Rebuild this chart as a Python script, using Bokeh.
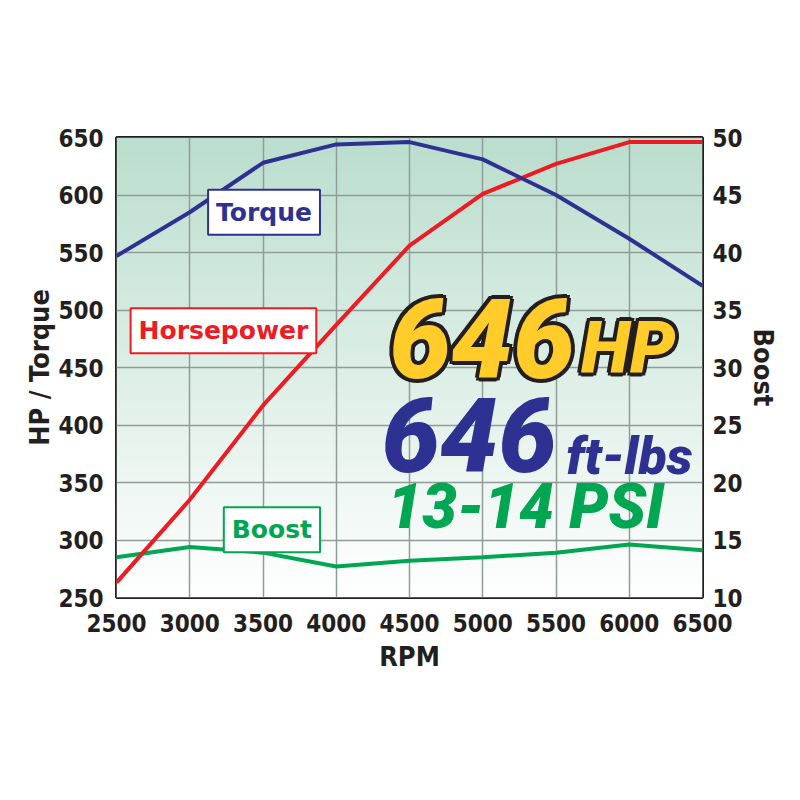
import numpy as np
from bokeh.plotting import figure
from bokeh.models import Range1d, LinearAxis, FixedTicker, Label
from bokeh.embed import file_html
from bokeh.resources import INLINE

# ---- data ----
rpm = [2500, 3000, 3500, 4000, 4500, 5000, 5500, 6000, 6500]
torque = [547, 585, 628, 644, 646, 631, 600, 562, 521]
horsepower = [263, 335, 417, 487, 556, 601, 627, 646, 646]
boost = [13.5, 14.4, 13.9, 12.7, 13.2, 13.5, 13.9, 14.6, 14.1]
left_ticks = [250, 300, 350, 400, 450, 500, 550, 600, 650]
right_ticks = [10, 15, 20, 25, 30, 35, 40, 45, 50]
x_ticks = [2500, 3000, 3500, 4000, 4500, 5000, 5500, 6000, 6500]

NARROW = "'DejaVu Sans Condensed', sans-serif"
BOLDF = "'DejaVu Sans', sans-serif"
HEAVY = "'Roboto Black', 'Lato Black', Roboto, sans-serif"

BLUE = "#2e3192"
RED = "#ed1c24"
GREEN = "#00a651"
INK = "#231f20"

p = figure(frame_width=586, frame_height=460, output_backend="svg", toolbar_location=None,
           x_range=Range1d(x_ticks[0], x_ticks[-1]),
           y_range=Range1d(left_ticks[0], left_ticks[-1]),
           min_border_left=116, min_border_top=137, min_border_right=82,
           min_border_bottom=187)
p.extra_y_ranges = {"boost": Range1d(right_ticks[0], right_ticks[-1])}
p.background_fill_color = "white"
p.border_fill_color = "white"
p.outline_line_color = INK
p.outline_line_width = 3

# gradient background (style only)
n = 200
t = np.linspace(0, 1, n)[:, None]  # 0 bottom -> 1 top
top = np.array([187, 222, 206])
bot = np.array([255, 255, 255])
rgb = (bot + (top - bot) * t).astype(np.uint32)
img = np.empty((n, 1), dtype=np.uint32)
view = img.view(dtype=np.uint8).reshape((n, 1, 4))
view[:, :, 0] = rgb[:, 0:1]
view[:, :, 1] = rgb[:, 1:2]
view[:, :, 2] = rgb[:, 2:3]
view[:, :, 3] = 255
bg = p.image_rgba(image=[img], x=x_ticks[0], y=left_ticks[0],
                  dw=x_ticks[-1] - x_ticks[0], dh=left_ticks[-1] - left_ticks[0])
bg.level = "image"

# grid
p.xgrid.ticker = FixedTicker(ticks=x_ticks)
p.ygrid.ticker = FixedTicker(ticks=left_ticks)
for g in (p.xgrid, p.ygrid):
    g.grid_line_color = "#909c97"
    g.grid_line_width = 1.5

# axes
def style_axis(ax, ticks):
    ax.ticker = FixedTicker(ticks=ticks)
    ax.axis_line_color = None
    ax.major_tick_line_color = None
    ax.minor_tick_line_color = None
    ax.major_tick_out = 0
    ax.major_tick_in = 0
    ax.minor_tick_out = 0
    ax.major_label_text_font = NARROW
    ax.major_label_text_font_style = "bold"
    ax.major_label_text_font_size = "24px"
    ax.major_label_text_color = INK
    ax.axis_label_text_font = NARROW
    ax.axis_label_text_font_style = "bold"
    ax.axis_label_text_font_size = "27px"
    ax.axis_label_text_color = INK

style_axis(p.xaxis[0], x_ticks)
p.xaxis[0].axis_label = "RPM"
p.xaxis[0].major_label_standoff = 16
p.xaxis[0].axis_label_standoff = 6
style_axis(p.yaxis[0], left_ticks)
p.yaxis[0].axis_label = "HP / Torque"
p.yaxis[0].major_label_standoff = 13
p.yaxis[0].axis_label_standoff = 0

rax = LinearAxis(y_range_name="boost", axis_label="Boost")
style_axis(rax, right_ticks)
rax.major_label_standoff = 10
rax.axis_label_standoff = 2
p.add_layout(rax, "right")

# lines
p.line(rpm, boost, y_range_name="boost", line_color=GREEN, line_width=4)
p.line(rpm, horsepower, line_color=RED, line_width=4)
p.line(rpm, torque, line_color=BLUE, line_width=4)

# series tags
def tag(text, x, y, color):
    p.add_layout(Label(x=x, y=y, text=text, text_align="center", text_baseline="middle",
                       text_font=BOLDF, text_font_style="bold", text_font_size="25px",
                       text_color=color, background_fill_color="white",
                       border_line_color=color, border_line_width=2, padding=8))

tag("Torque", 3507, 585, BLUE)
tag("Horsepower", 3230, 482, RED)
tag("Boost", 3561, 309, GREEN)

# headline texts
def big(text, x, y, color, size, font, outline=0, align="left"):
    if outline:
        for dx, dy in [(-4, 0), (4, 0), (0, -4), (0, 4), (-3, -3), (3, 3), (-3, 3), (3, -3)]:
            p.add_layout(Label(x=x, y=y, x_offset=dx, y_offset=dy, text=text,
                               text_font=font, text_font_style="bold italic",
                               text_font_size=size, text_color=INK, text_align=align,
                               text_baseline="middle"))
    p.add_layout(Label(x=x, y=y, text=text, text_font=font, text_font_style="bold italic",
                       text_font_size=size, text_color=color, text_align=align,
                       text_baseline="middle"))

big("646", 5628, 475, "#ffcc29", "110px", HEAVY, outline=4, align="right")
big("HP", 5670, 467, "#ffcc29", "72px", HEAVY, outline=4)
big("646", 5505, 391, BLUE, "104px", HEAVY, align="right")
big("ft-lbs", 5570, 373, BLUE, "52px", HEAVY)
big("13-14 PSI", 4350, 329, GREEN, "62px", HEAVY)

open("out.html", "w").write(file_html(p, INLINE))
